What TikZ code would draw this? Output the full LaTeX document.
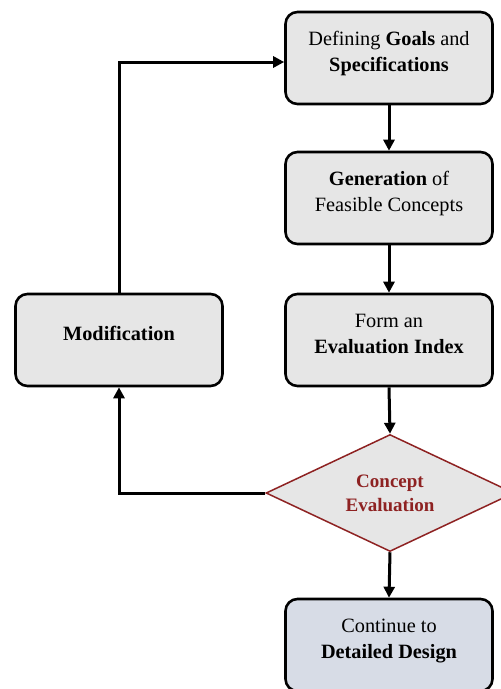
\documentclass[tikz,border=0pt]{standalone}
\usepackage{fontspec}
\setmainfont{Liberation Serif}
\usetikzlibrary{shapes.geometric,arrows.meta}
\definecolor{boxgray}{HTML}{E6E6E6}
\definecolor{boxblue}{HTML}{D7DCE6}
\definecolor{darkred}{HTML}{8E2222}
\newcommand{\uptext}[1]{\raisebox{0pt}[\height][\dimexpr\depth+9pt\relax]{\begin{tabular}{@{}c@{}}#1\end{tabular}}}
\tikzset{
  stepbox/.style={draw=black, line width=2.6pt, rounded corners=12pt, fill=boxgray,
    minimum width=207pt, minimum height=92pt, align=center, inner sep=0pt,
    font=\fontsize{20.3}{26}\selectfont},
  endbox/.style={stepbox, fill=boxblue},
  decision/.style={diamond, draw=darkred, line width=1.5pt, fill=boxgray, aspect=2.12,
    minimum width=248pt, minimum height=117pt, inner sep=0pt, align=center,
    text=darkred, font=\fontsize{19}{24}\selectfont\bfseries},
  flow/.style={draw=black, line width=3pt, -{Triangle[length=11pt,width=11pt]}}
}
\begin{document}
\begin{tikzpicture}[x=1pt,y=-1pt]
\useasboundingbox (0,0) rectangle (501,689);
\node[stepbox] (goals) at (389,58) {\uptext{Defining \textbf{Goals} and\\\textbf{Specifications}}};
\node[stepbox] (gen) at (389,198) {\uptext{\textbf{Generation} of\\Feasible Concepts}};
\node[stepbox] (index) at (389,340) {\uptext{Form an\\\textbf{Evaluation Index}}};
\node[stepbox] (mod) at (119,340) {\uptext{\textbf{Modification}}};
\node[decision] (eval) at (390,493) {Concept\\Evaluation};
\node[endbox] (cont) at (389,645) {\uptext{Continue to\\\textbf{Detailed Design}}};
\coordinate (gin) at ([yshift=-4pt]goals.west);
\draw[flow] (goals.south) -- (gen.north);
\draw[flow] (gen.south) -- (index.north);
\draw[flow] (index.south) -- (eval.north);
\draw[flow] (eval.south) -- (cont.north);
\draw[flow] (eval.west) -| (mod.south);
\draw[flow] (mod.north) |- (gin);
\end{tikzpicture}
\end{document}
